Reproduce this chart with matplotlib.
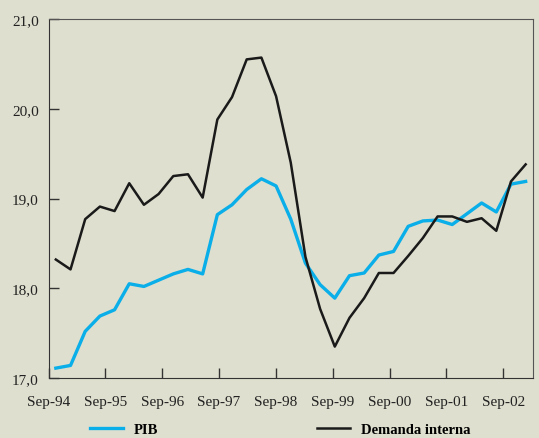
import matplotlib
matplotlib.use("Agg")
import matplotlib.pyplot as plt
import numpy as np

# quarterly ratios, Sep-94 .. Sep-02 (+1)
pib = [17.11, 17.14, 17.52, 17.69, 17.76, 18.05, 18.02, 18.09, 18.16, 18.21,
       18.16, 18.82, 18.93, 19.10, 19.22, 19.14, 18.77, 18.28, 18.04, 17.89,
       18.14, 18.17, 18.37, 18.41, 18.69, 18.75, 18.76, 18.71, 18.83, 18.95,
       18.85, 19.16, 19.19]
demanda = [18.32, 18.21, 18.77, 18.91, 18.86, 19.17, 18.93, 19.05, 19.25, 19.27,
           19.01, 19.88, 20.13, 20.55, 20.57, 20.14, 19.40, 18.35, 17.77, 17.35,
           17.67, 17.89, 18.17, 18.17, 18.36, 18.56, 18.80, 18.80, 18.74, 18.78,
           18.64, 19.19, 19.38]
year_labels = ["Sep-94", "Sep-95", "Sep-96", "Sep-97", "Sep-98",
               "Sep-99", "Sep-00", "Sep-01", "Sep-02"]
y_ticks = [17.0, 18.0, 19.0, 20.0, 21.0]

bg = "#dfdfcf"
blue = "#0aaee8"
plt.rcParams["font.family"] = ["Liberation Serif", "DejaVu Serif"]

W, H = 539, 439
fig = plt.figure(figsize=(W / 100, H / 100), dpi=100, facecolor=bg)
ax = fig.add_axes([48.5 / W, 1 - 379 / H, (533 - 48.5) / W, (379 - 20) / H])
ax.set_facecolor(bg)

x = np.arange(len(pib))
ax.plot(x, pib, color=blue, lw=2.4, label="PIB")
ax.plot(x, demanda, color="#1a1a1a", lw=1.8, label="Demanda interna")

ax.set_xlim(-0.5, len(pib) - 0.5)
ax.set_ylim(17, 21)

# year ticks don't line up with the quarters in the original
step = (503.3 - 48.5) / 8 / ((533 - 48.5) / len(pib))
ax.set_xticks([-0.5 + k * step for k in range(len(year_labels))])
ax.set_xticklabels(year_labels)
ax.set_yticks(y_ticks)
ax.set_yticklabels([f"{v:.1f}".replace(".", ",") for v in y_ticks])

ax.tick_params(direction="in", length=7, width=1, color="#333333",
               labelsize=11, labelcolor="#222222")
ax.tick_params(axis="x", pad=12)
ax.tick_params(axis="y", pad=7)
for side in ["left", "bottom"]:
    ax.spines[side].set_color("#333333")
for side in ["top", "right"]:
    ax.spines[side].set_color("#555555")

leg = ax.legend(loc="center left", bbox_to_anchor=(90 / W, 1 - 430 / H),
                bbox_transform=fig.transFigure, ncol=2, frameon=False,
                borderpad=0, borderaxespad=0, handlelength=2.25,
                handletextpad=0.75, columnspacing=10.9,
                prop={"weight": "bold", "size": 10.5})

fig.savefig("out.png", dpi=100, facecolor=bg)
